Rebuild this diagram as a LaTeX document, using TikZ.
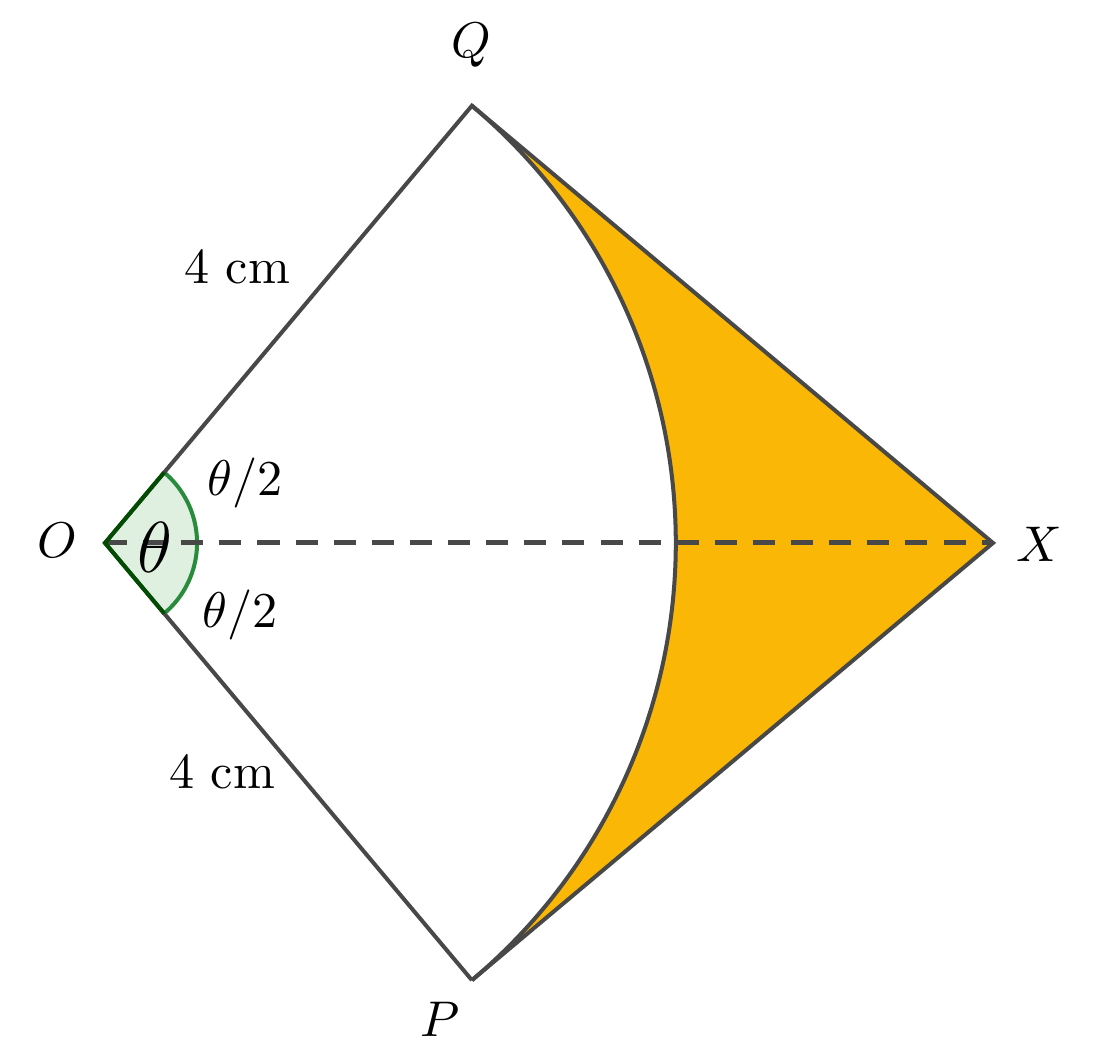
\documentclass[tikz,border=0pt]{standalone}
\usepackage{amsmath}
\usepackage{amssymb}
\usepackage{tikz}
\usetikzlibrary{calc}
\usetikzlibrary{positioning}

\definecolor{segfill}{RGB}{250,183,5}
\definecolor{edgegray}{RGB}{72,72,72}
\definecolor{anglegreen}{RGB}{40,140,60}

\begin{document}
\begin{tikzpicture}
      \useasboundingbox (-0.736,-3.581) rectangle (6.931,3.805);
      \coordinate (O) at (0,0);
      \coordinate (Q) at (50:4);
      \coordinate (P) at (-50:4);
      \coordinate (X) at (6.223,0);

      \fill[segfill] (Q) -- (X) -- (P) arc[start angle=-50,end angle=50,radius=4] -- cycle;
      \fill[green!50!black,opacity=0.12] (O) -- (-50:0.645) arc[start angle=-50,end angle=50,radius=0.645] -- cycle;
      \draw[anglegreen,thick] (-50:0.645) arc[start angle=-50,end angle=50,radius=0.645];

      \draw[edgegray,line width=1pt,dash pattern=on 4.4pt off 3.2pt] (O) -- (X);
      \draw[edgegray,thick] (P) -- (O) -- (Q) -- (X) -- (P);
      \draw[edgegray,thick] (P) arc[start angle=-50,end angle=50,radius=4];
      \draw[black!70!green,thick] (-50:0.645) -- (O) -- (50:0.645);

      \node (lQ) at (2.565,3.49) {$Q$};
      \node (lP) at (2.347,-3.34) {$P$};
      \node (lO) at (-0.336,0.02) {$O$};
      \node (lX) at (6.55,-0.01) {$X$};
      \node (lt) at (0.35,-0.03) {\Large $\theta$};
      \node (lt1) at (0.98,0.42) {$\theta/2$};
      \node (lt2) at (0.946,-0.505) {$\theta/2$};
      \node (l1) at (0.925,1.927) {$4$ cm};
      \node (l2) at (0.82,-1.61) {$4$ cm};
\end{tikzpicture}
\end{document}
